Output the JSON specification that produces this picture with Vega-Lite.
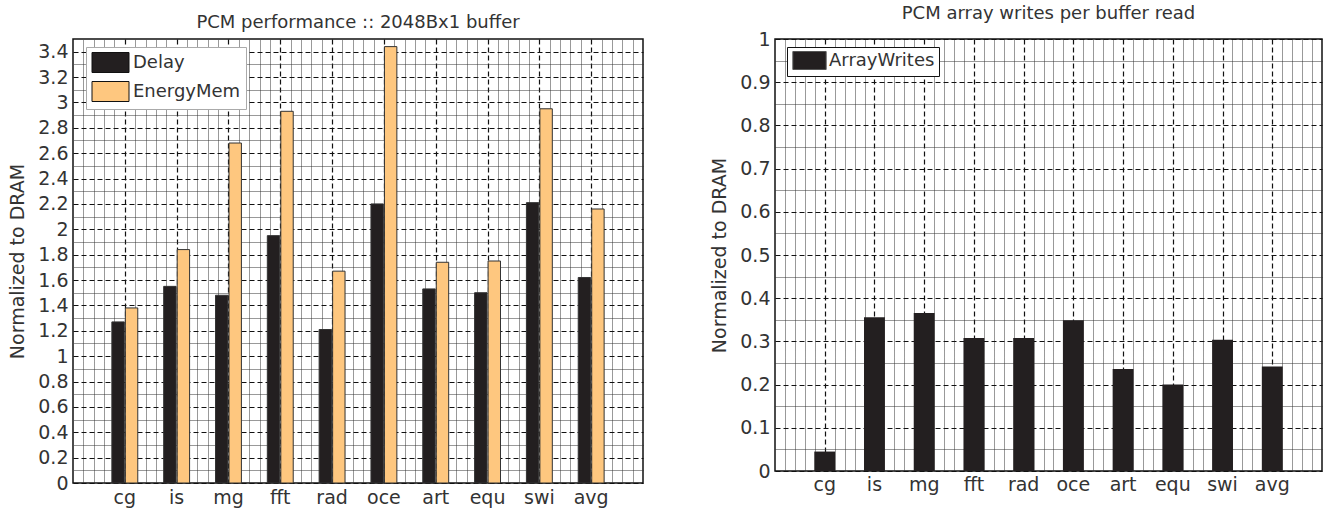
{
  "$schema": "https://vega.github.io/schema/vega-lite/v6.json",
  "padding": {"left": 8, "top": 4, "right": 8, "bottom": 4},
  "background": "white",
  "config": {
    "font": "DejaVu Sans",
    "view": {"stroke": "#111", "strokeWidth": 1.5},
    "axis": {"labelFontSize": 19, "labelColor": "#333", "titleColor": "#333", "titleFontWeight": "normal", "titleFontSize": 19, "ticks": false, "domain": false},
    "title": {"fontSize": 18, "fontWeight": "normal", "color": "#333", "offset": 7},
    "concat": {"spacing": 66}
  },
  "resolve": {"scale": {"color": "independent"}, "legend": {"color": "independent"}},
  "datasets": {
    "perf": [
      {"bench": "cg", "series": "Delay", "value": 1.27}, {"bench": "cg", "series": "EnergyMem", "value": 1.38},
      {"bench": "is", "series": "Delay", "value": 1.55}, {"bench": "is", "series": "EnergyMem", "value": 1.84},
      {"bench": "mg", "series": "Delay", "value": 1.48}, {"bench": "mg", "series": "EnergyMem", "value": 2.68},
      {"bench": "fft", "series": "Delay", "value": 1.95}, {"bench": "fft", "series": "EnergyMem", "value": 2.93},
      {"bench": "rad", "series": "Delay", "value": 1.21}, {"bench": "rad", "series": "EnergyMem", "value": 1.67},
      {"bench": "oce", "series": "Delay", "value": 2.2}, {"bench": "oce", "series": "EnergyMem", "value": 3.44},
      {"bench": "art", "series": "Delay", "value": 1.53}, {"bench": "art", "series": "EnergyMem", "value": 1.74},
      {"bench": "equ", "series": "Delay", "value": 1.5}, {"bench": "equ", "series": "EnergyMem", "value": 1.75},
      {"bench": "swi", "series": "Delay", "value": 2.21}, {"bench": "swi", "series": "EnergyMem", "value": 2.95},
      {"bench": "avg", "series": "Delay", "value": 1.62}, {"bench": "avg", "series": "EnergyMem", "value": 2.16}
    ],
    "writes": [
      {"bench": "cg", "series": "ArrayWrites", "value": 0.045},
      {"bench": "is", "series": "ArrayWrites", "value": 0.356},
      {"bench": "mg", "series": "ArrayWrites", "value": 0.366},
      {"bench": "fft", "series": "ArrayWrites", "value": 0.308},
      {"bench": "rad", "series": "ArrayWrites", "value": 0.308},
      {"bench": "oce", "series": "ArrayWrites", "value": 0.349},
      {"bench": "art", "series": "ArrayWrites", "value": 0.236},
      {"bench": "equ", "series": "ArrayWrites", "value": 0.2},
      {"bench": "swi", "series": "ArrayWrites", "value": 0.304},
      {"bench": "avg", "series": "ArrayWrites", "value": 0.242}
    ]
  },
  "hconcat": [
    {
      "title": "PCM performance :: 2048Bx1 buffer",
      "width": 570,
      "height": 444,
      "data": {"name": "perf"},
      "layer": [
        {
          "mark": {"type": "bar", "stroke": "#333", "strokeWidth": 1},
          "encoding": {
            "x": {"field": "bench", "type": "nominal", "sort": null, "scale": {"paddingInner": 0.5, "paddingOuter": 0.75},
                  "axis": {"title": null, "labelAngle": 0, "grid": false, "labelPadding": 5}},
            "xOffset": {"field": "series", "type": "nominal", "sort": null, "scale": {"paddingInner": 0.08}},
            "y": {"field": "value", "type": "quantitative", "scale": {"domain": [0, 3.5], "nice": false},
                  "axis": {"title": "Normalized to DRAM", "values": [0, 0.2, 0.4, 0.6, 0.8, 1, 1.2, 1.4, 1.6, 1.8, 2, 2.2, 2.4, 2.6, 2.8, 3, 3.2, 3.4],
                           "format": ".1~f", "grid": true, "gridDash": [5, 3], "gridColor": "#111", "gridWidth": 1.2, "labelPadding": 5, "titlePadding": 10, "zindex": 0}},
            "color": {"field": "series", "type": "nominal", "sort": null,
                      "scale": {"domain": ["Delay", "EnergyMem"], "range": ["#231f20", "#fec77f"]},
                      "legend": {"title": null, "orient": "none", "legendX": 13, "legendY": 8,
                                 "symbolType": "M-1.85,-1H1.85V1H-1.85Z", "symbolSize": 400, "symbolStrokeColor": "#111", "symbolStrokeWidth": 1,
                                 "symbolOffset": 9, "labelOffset": 12, "labelFontSize": 18, "labelColor": "#333",
                                 "fillColor": "white", "strokeColor": "#aaa", "padding": 5, "rowPadding": 4}}
          }
        },
        {
          "mark": {"type": "point", "opacity": 0},
          "encoding": {
            "x": {"datum": 0, "type": "quantitative", "scale": {"domain": [0, 11], "nice": false},
                  "axis": {"title": null, "labels": false, "ticks": false, "domain": false, "grid": true, "gridDash": [1, 1], "gridColor": "#333", "gridWidth": 1, "zindex": 0,
                           "values": [0.2, 0.4, 0.6, 0.8, 1.2, 1.4, 1.6, 1.8, 2.2, 2.4, 2.6, 2.8, 3.2, 3.4, 3.6, 3.8, 4.2, 4.4, 4.6, 4.8, 5.2, 5.4, 5.6, 5.8, 6.2, 6.4, 6.6, 6.8, 7.2, 7.4, 7.6, 7.8, 8.2, 8.4, 8.6, 8.8, 9.2, 9.4, 9.6, 9.8, 10.2, 10.4, 10.6, 10.8]}},
            "y": {"datum": 0, "type": "quantitative",
                  "axis": {"title": null, "labels": false, "ticks": false, "domain": false, "grid": true, "gridDash": [1, 1], "gridColor": "#333", "gridWidth": 1, "zindex": 0,
                           "values": [0.1, 0.3, 0.5, 0.7, 0.9, 1.1, 1.3, 1.5, 1.7, 1.9, 2.1, 2.3, 2.5, 2.7, 2.9, 3.1, 3.3]}}
          }
        },
        {
          "mark": {"type": "point", "opacity": 0},
          "encoding": {
            "x": {"datum": 0, "type": "quantitative", "scale": {"domain": [0, 11], "nice": false},
                  "axis": {"title": null, "labels": false, "ticks": false, "domain": false, "grid": true, "gridDash": [5, 3], "gridColor": "#111", "gridWidth": 1.2, "zindex": 0,
                           "values": [1, 2, 3, 4, 5, 6, 7, 8, 9, 10]}}
          }
        }
      ],
      "resolve": {"scale": {"x": "independent"}, "axis": {"x": "independent", "y": "independent"}}
    },
    {
      "title": "PCM array writes per buffer read",
      "width": 547,
      "height": 432,
      "data": {"name": "writes"},
      "layer": [
        {
          "mark": {"type": "bar"},
          "encoding": {
            "x": {"field": "bench", "type": "nominal", "sort": null, "scale": {"paddingInner": 0.58, "paddingOuter": 0.79},
                  "axis": {"title": null, "labelAngle": 0, "grid": false, "labelPadding": 4}},
            "y": {"field": "value", "type": "quantitative", "scale": {"domain": [0, 1], "nice": false},
                  "axis": {"title": "Normalized to DRAM", "values": [0, 0.1, 0.2, 0.3, 0.4, 0.5, 0.6, 0.7, 0.8, 0.9, 1],
                           "format": ".1~f", "grid": true, "gridDash": [5, 3], "gridColor": "#111", "gridWidth": 1.2, "labelPadding": 5, "titlePadding": 10, "zindex": 0}},
            "color": {"field": "series", "type": "nominal",
                      "scale": {"domain": ["ArrayWrites"], "range": ["#231f20"]},
                      "legend": {"title": null, "orient": "none", "legendX": 12, "legendY": 8,
                                 "symbolType": "M-1.85,-1H1.85V1H-1.85Z", "symbolSize": 324, "symbolStrokeColor": "#555", "symbolStrokeWidth": 1,
                                 "symbolOffset": 9, "labelOffset": 10, "labelFontSize": 18, "labelColor": "#333",
                                 "fillColor": "white", "strokeColor": "#111", "padding": 4}}
          }
        },
        {
          "mark": {"type": "point", "opacity": 0},
          "encoding": {
            "x": {"datum": 0, "type": "quantitative", "scale": {"domain": [0, 11], "nice": false},
                  "axis": {"title": null, "labels": false, "ticks": false, "domain": false, "grid": true, "gridDash": [1, 1], "gridColor": "#333", "gridWidth": 1, "zindex": 0,
                           "values": [0.2, 0.4, 0.6, 0.8, 1.2, 1.4, 1.6, 1.8, 2.2, 2.4, 2.6, 2.8, 3.2, 3.4, 3.6, 3.8, 4.2, 4.4, 4.6, 4.8, 5.2, 5.4, 5.6, 5.8, 6.2, 6.4, 6.6, 6.8, 7.2, 7.4, 7.6, 7.8, 8.2, 8.4, 8.6, 8.8, 9.2, 9.4, 9.6, 9.8, 10.2, 10.4, 10.6, 10.8]}},
            "y": {"datum": 0, "type": "quantitative",
                  "axis": {"title": null, "labels": false, "ticks": false, "domain": false, "grid": true, "gridDash": [1, 1], "gridColor": "#333", "gridWidth": 1, "zindex": 0,
                           "values": [0.05, 0.15, 0.25, 0.35, 0.45, 0.55, 0.65, 0.75, 0.85, 0.95]}}
          }
        },
        {
          "mark": {"type": "point", "opacity": 0},
          "encoding": {
            "x": {"datum": 0, "type": "quantitative", "scale": {"domain": [0, 11], "nice": false},
                  "axis": {"title": null, "labels": false, "ticks": false, "domain": false, "grid": true, "gridDash": [5, 3], "gridColor": "#111", "gridWidth": 1.2, "zindex": 0,
                           "values": [1, 2, 3, 4, 5, 6, 7, 8, 9, 10]}}
          }
        }
      ],
      "resolve": {"scale": {"x": "independent"}, "axis": {"x": "independent", "y": "independent"}}
    }
  ]
}
